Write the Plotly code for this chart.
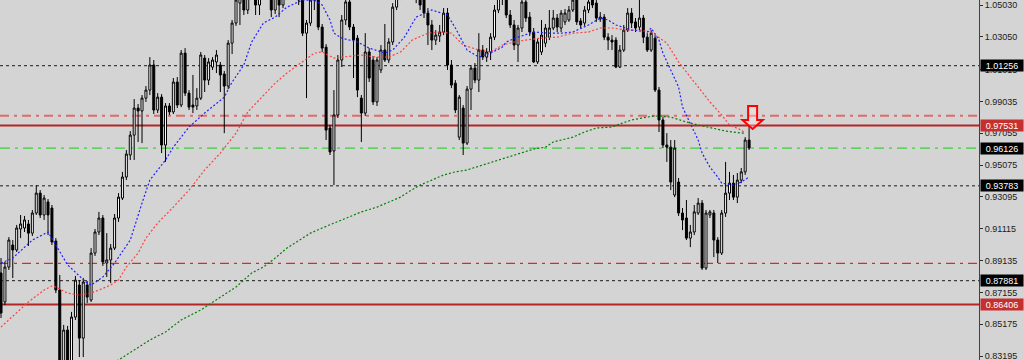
import plotly.graph_objects as go

# ---- candle data (price) ----
opens = [0.8836,0.8656,0.8873,0.9010,0.8979,0.9110,0.9116,0.9141,0.9084,0.9209,
0.9333,0.9197,0.9278,0.9240,0.9035,0.8730,0.8221,0.8481,0.8283,0.8562,
0.8761,0.8431,0.8761,0.8668,0.8960,0.9091,0.9178,0.8898,0.8917,0.8991,
0.9178,0.9302,0.9433,0.9570,0.9694,0.9862,0.9844,0.9924,0.9974,1.0130,
0.9850,0.9930,0.9632,0.9875,0.9838,1.0024,0.9881,1.0204,0.9955,0.9881,
0.9875,0.9924,1.0173,1.0036,1.0117,1.0149,1.0130,1.0074,0.9999,1.0266,
1.0391,1.0515,1.0565,1.0472,1.0596,1.0690,1.0503,1.0627,1.0721,1.0596,
1.0472,1.0584,1.0503,1.0627,1.0721,1.0658,1.0596,1.0534,1.0328,1.0391,
1.0534,1.0534,1.0366,1.0241,0.9738,0.9595,0.9819,1.0161,1.0410,1.0522,
1.0366,1.0297,0.9924,0.9831,1.0211,1.0161,0.9900,1.0099,1.0223,1.0161,
1.0273,1.0490,1.0565,1.0627,1.0690,1.0596,1.0658,1.0565,1.0553,1.0453,
1.0379,1.0285,1.0310,1.0335,1.0453,1.0130,1.0017,0.9681,0.9862,0.9644,
0.9980,1.0111,1.0036,1.0223,1.0179,1.0211,1.0303,1.0472,1.0553,1.0565,
1.0441,1.0379,1.0254,1.0360,1.0522,1.0428,1.0335,1.0149,1.0211,1.0266,
1.0303,1.0360,1.0422,1.0360,1.0398,1.0410,1.0472,1.0534,1.0404,1.0391,
1.0472,1.0553,1.0515,1.0416,1.0428,1.0303,1.0285,1.0285,1.0117,1.0223,
1.0347,1.0453,1.0398,1.0366,1.0422,1.0303,1.0223,1.0297,0.9974,0.9788,
0.9632,0.9619,0.9321,0.9402,0.9209,0.9178,0.9053,0.9091,0.9209,0.9271,
0.8867,0.9197,0.9209,0.9041,0.8960,0.9209,0.9333,0.9395,0.9308,0.9414,
0.9465,0.9663]

highs = [0.8929,0.8905,0.9059,0.9041,0.9135,0.9197,0.9191,0.9166,0.9228,0.9383,
0.9352,0.9321,0.9296,0.9259,0.9053,0.8824,0.8513,0.8507,0.8594,0.8818,
0.8792,0.8805,0.8786,0.8991,0.9110,0.9216,0.9197,0.9084,0.9016,0.9203,
0.9333,0.9465,0.9601,0.9719,0.9918,0.9887,0.9943,0.9999,1.0179,1.0161,
0.9955,0.9949,0.9893,0.9893,1.0049,1.0055,1.0223,1.0235,0.9974,1.0068,
0.9986,1.0211,1.0192,1.0173,1.0179,1.0223,1.0149,1.0093,1.0285,1.0410,
1.0596,1.0627,1.0627,1.0658,1.0752,1.0721,1.0690,1.0783,1.0752,1.0627,
1.0658,1.0627,1.0690,1.0783,1.0814,1.0721,1.0658,1.0565,1.0410,1.0565,
1.0627,1.0565,1.0385,1.0260,0.9757,0.9974,1.0192,1.0441,1.0565,1.0546,
1.0385,1.0316,0.9943,1.0328,1.0235,1.0186,1.0179,1.0254,1.0385,1.0297,
1.0515,1.0627,1.0690,1.0752,1.0752,1.0721,1.0690,1.0627,1.0596,1.0484,
1.0410,1.0347,1.0379,1.0484,1.0484,1.0161,1.0036,0.9943,0.9881,0.9999,
1.0130,1.0142,1.0328,1.0254,1.0235,1.0328,1.0503,1.0596,1.0627,1.0596,
1.0472,1.0410,1.0379,1.0553,1.0546,1.0459,1.0360,1.0297,1.0410,1.0385,
1.0472,1.0472,1.0447,1.0472,1.0478,1.0497,1.0565,1.0565,1.0422,1.0497,
1.0553,1.0584,1.0534,1.0459,1.0447,1.0328,1.0316,1.0303,1.0254,1.0379,
1.0484,1.0484,1.0422,1.0565,1.0441,1.0328,1.0347,1.0316,0.9993,0.9806,
0.9706,0.9663,0.9663,0.9427,0.9240,0.9290,0.9135,0.9259,0.9302,0.9290,
0.9228,0.9228,0.9228,0.9059,0.9228,0.9527,0.9465,0.9446,0.9458,0.9489,
0.9681,0.9751]

lows = [0.8556,0.8637,0.8855,0.8805,0.8967,0.9053,0.9091,0.9004,0.9066,0.9197,
0.9178,0.9166,0.9072,0.9010,0.8711,0.8139,0.8170,0.8202,0.8245,0.8544,
0.8313,0.8313,0.8649,0.8656,0.8942,0.9072,0.8880,0.8811,0.8773,0.8979,
0.9154,0.9290,0.9414,0.9539,0.9539,0.9651,0.9644,0.9900,0.9943,0.9825,
0.9831,0.9582,0.9527,0.9819,0.9825,0.9862,0.9868,0.9937,0.9850,0.9831,
0.9850,0.9912,0.9962,1.0005,1.0099,1.0080,0.9962,0.9706,0.9980,1.0198,
1.0373,1.0379,1.0441,1.0447,1.0565,1.0441,1.0441,1.0596,1.0534,1.0428,
1.0447,1.0428,1.0484,1.0596,1.0627,1.0553,1.0503,1.0310,0.9924,1.0373,
1.0472,1.0347,1.0211,0.9663,0.9570,0.9383,0.9800,1.0117,1.0379,1.0347,
1.0049,0.9930,0.9651,0.9813,1.0024,0.9881,0.9875,1.0080,1.0149,1.0142,
1.0254,1.0472,1.0534,1.0596,1.0565,1.0565,1.0515,1.0472,1.0422,1.0254,
1.0223,1.0254,1.0273,1.0316,1.0099,0.9986,0.9831,0.9663,0.9570,0.9632,
0.9850,1.0017,0.9962,1.0161,1.0149,1.0161,1.0285,1.0453,1.0503,1.0422,
1.0360,1.0223,1.0149,1.0335,1.0398,1.0310,1.0142,1.0136,1.0192,1.0241,
1.0285,1.0347,1.0335,1.0335,1.0379,1.0398,1.0459,1.0379,1.0360,1.0373,
1.0453,1.0484,1.0398,1.0398,1.0285,1.0223,1.0223,1.0111,1.0111,1.0211,
1.0335,1.0360,1.0335,1.0347,1.0266,1.0211,1.0211,0.9962,0.9713,0.9613,
0.9527,0.9352,0.9308,0.9191,0.9103,0.9041,0.8997,0.9072,0.9197,0.8855,
0.8855,0.9178,0.8935,0.8898,0.8948,0.9185,0.9290,0.9290,0.9271,0.9395,
0.9446,0.9601]

closes = [0.8587,0.8873,0.9041,0.8979,0.9116,0.9141,0.9166,0.9084,0.9209,0.9333,
0.9197,0.9302,0.9197,0.9029,0.8730,0.8221,0.8481,0.8283,0.8562,0.8792,
0.8431,0.8780,0.8686,0.8960,0.9091,0.9178,0.8905,0.8917,0.8991,0.9178,
0.9308,0.9433,0.9576,0.9694,0.9862,0.9844,0.9924,0.9974,1.0130,0.9850,
0.9930,0.9632,0.9875,0.9838,1.0024,0.9881,1.0204,0.9955,0.9868,0.9868,
0.9924,1.0192,1.0036,1.0149,1.0161,1.0192,1.0068,0.9999,1.0266,1.0391,
1.0534,1.0565,1.0472,1.0596,1.0690,1.0503,1.0627,1.0721,1.0596,1.0472,
1.0584,1.0503,1.0627,1.0721,1.0658,1.0596,1.0534,1.0328,1.0391,1.0534,
1.0565,1.0366,1.0235,0.9725,0.9589,0.9819,1.0161,1.0410,1.0522,1.0366,
1.0285,0.9974,0.9831,1.0211,1.0049,0.9900,1.0161,1.0223,1.0161,1.0273,
1.0490,1.0565,1.0627,1.0690,1.0596,1.0658,1.0565,1.0503,1.0453,1.0379,
1.0285,1.0316,1.0335,1.0453,1.0130,1.0005,0.9850,0.9930,0.9644,0.9980,
1.0111,1.0036,1.0223,1.0179,1.0211,1.0303,1.0472,1.0553,1.0584,1.0441,
1.0379,1.0254,1.0360,1.0522,1.0422,1.0335,1.0149,1.0273,1.0316,1.0360,
1.0360,1.0422,1.0366,1.0453,1.0453,1.0472,1.0534,1.0398,1.0379,1.0472,
1.0522,1.0503,1.0422,1.0428,1.0303,1.0285,1.0273,1.0117,1.0223,1.0347,
1.0453,1.0391,1.0360,1.0422,1.0303,1.0223,1.0328,0.9974,0.9788,0.9632,
0.9619,0.9402,0.9613,0.9209,0.9166,0.9053,0.9091,0.9216,0.9271,0.8867,
0.9209,0.9216,0.9041,0.8960,0.9209,0.9333,0.9395,0.9308,0.9414,0.9465,
0.9663,0.9613]

bar_index = list(range(len(opens)))

# ---- moving averages (sampled at bar indices) ----
fast_idx = [0,3,8,12,14,17,20,22,23,26,29,33,36,38,42,44,48,52,57,59,62,64,67,70,73,77,80,82,84,85,87,91,94,98,100,103,106,110,114,116,119,122,125,128,129,132,136,140,143,146,150,153,155,157,161,165,166,168,169,171,173,174,176,178,179,181,183,184,187,189,191]
fast_val = [0.8898,0.8929,0.9041,0.9091,0.9010,0.8886,0.8818,0.8773,0.8761,0.8811,0.8898,0.9041,0.9271,0.9414,0.9539,0.9619,0.9744,0.9831,0.9930,1.0024,1.0130,1.0273,1.0391,1.0428,1.0490,1.0534,1.0534,1.0503,1.0410,1.0328,1.0297,1.0273,1.0235,1.0204,1.0223,1.0303,1.0428,1.0472,1.0441,1.0360,1.0223,1.0179,1.0204,1.0241,1.0273,1.0303,1.0335,1.0328,1.0328,1.0335,1.0379,1.0422,1.0410,1.0379,1.0347,1.0335,1.0360,1.0285,1.0204,1.0099,0.9993,0.9868,0.9769,0.9663,0.9582,0.9495,0.9433,0.9395,0.9383,0.9402,0.9433]

mid_idx = [0,4,7,11,13,14,17,20,23,25,28,30,32,35,37,40,44,48,52,56,60,63,67,70,73,77,80,82,85,87,92,96,99,102,105,109,112,115,118,122,125,128,131,134,138,142,146,150,153,156,160,163,166,170,173,176,178,181,184,186,189,190]
mid_val = [0.8500,0.8587,0.8656,0.8730,0.8755,0.8749,0.8711,0.8699,0.8711,0.8730,0.8761,0.8792,0.8873,0.8960,0.9053,0.9147,0.9246,0.9352,0.9477,0.9582,0.9706,0.9838,0.9943,1.0017,1.0080,1.0149,1.0204,1.0211,1.0173,1.0179,1.0192,1.0179,1.0179,1.0211,1.0285,1.0328,1.0335,1.0328,1.0254,1.0223,1.0211,1.0254,1.0273,1.0285,1.0297,1.0303,1.0328,1.0335,1.0360,1.0360,1.0347,1.0347,1.0335,1.0266,1.0149,1.0055,0.9993,0.9900,0.9819,0.9757,0.9725,0.9706]

slow_idx = [25,30,34,38,42,46,51,56,60,64,67,70,73,77,79,82,86,89,92,96,99,102,104,107,110,113,116,119,123,127,131,136,139,141,146,149,152,156,158,161,165,167,171,175,178,182,185,189,190]
slow_val = [0.8233,0.8295,0.8357,0.8419,0.8469,0.8544,0.8606,0.8686,0.8749,0.8836,0.8873,0.8929,0.8991,0.9053,0.9084,0.9116,0.9154,0.9185,0.9216,0.9246,0.9278,0.9308,0.9340,0.9383,0.9414,0.9446,0.9465,0.9477,0.9508,0.9539,0.9570,0.9607,0.9619,0.9651,0.9681,0.9713,0.9738,0.9744,0.9763,0.9788,0.9806,0.9813,0.9806,0.9775,0.9757,0.9738,0.9719,0.9706,0.9706]

# ---- horizontal levels ----
level_prices = [1.01256, 0.98146, 0.97531, 0.96126, 0.93783, 0.88963, 0.87881, 0.86406]
level_colors = ["#1a1a1a", "rgba(225,95,95,0.9)", "#b52525", "#3ccd3c", "#1a1a1a", "#e02828", "#1a1a1a", "#b52525"]
level_widths = [1, 2, 2, 1.3, 1, 1.3, 1, 2]
level_dashes = ["3px,3px", "9px,5px,3px,5px", "solid", "10px,5px,3px,5px", "3px,3px", "9px,5px,3px,5px", "3px,3px", "solid"]

# ---- axis ticks and price tags ----
tick_vals = [1.05030, 1.03050, 1.01015, 0.99035, 0.97055, 0.95075, 0.93095, 0.91115, 0.89135, 0.87155, 0.85175, 0.83195]
tick_text = ["%.5f" % v for v in tick_vals]
tag_prices = [1.01256, 0.97531, 0.96126, 0.93783, 0.87881, 0.86406]
tag_colors = ["#000000", "#c43030", "#000000", "#000000", "#000000", "#c43030"]

fig = go.Figure()
fig.add_trace(go.Candlestick(
    x=bar_index, open=opens, high=highs, low=lows, close=closes,
    increasing=dict(line=dict(color="#000000", width=1), fillcolor="#ffffff"),
    decreasing=dict(line=dict(color="#000000", width=1), fillcolor="#000000"),
    whiskerwidth=0, showlegend=False, hoverinfo="skip"))

fig.add_trace(go.Scatter(x=slow_idx, y=slow_val, mode="lines",
    line=dict(color="#008000", width=1.2, dash="2px,2px"), showlegend=False, hoverinfo="skip"))
fig.add_trace(go.Scatter(x=mid_idx, y=mid_val, mode="lines",
    line=dict(color="#ff4040", width=1.2, dash="2px,2px"), showlegend=False, hoverinfo="skip"))
fig.add_trace(go.Scatter(x=fast_idx, y=fast_val, mode="lines",
    line=dict(color="#2020ff", width=1.2, dash="2px,2px"), showlegend=False, hoverinfo="skip"))

shapes = []
for p, c, w, d in zip(level_prices, level_colors, level_widths, level_dashes):
    shapes.append(dict(type="line", xref="paper", x0=0, x1=1, yref="y", y0=p, y1=p,
                       line=dict(color=c, width=w, dash=d), layer="below"))

# signal arrow above the last bar
last = bar_index[-1]
ax = last + 0.9
arrow_path = ("M {a},{t} L {b},{t} L {b},{m} L {c},{m} L {x},{tip} L {d},{m} L {a},{m} Z"
              .format(a=ax - 1.15, b=ax + 1.15, c=ax + 2.6, d=ax - 2.6, x=ax,
                      t=0.98749, m=0.97878, tip=0.97318))
shapes.append(dict(type="path", xref="x", yref="y", path=arrow_path,
                   line=dict(color="#ff0000", width=2), fillcolor="rgba(255,235,235,0.35)", layer="above"))

annotations = []
for p, c in zip(tag_prices, tag_colors):
    annotations.append(dict(xref="paper", x=1, xanchor="left", xshift=1, yref="y", y=p,
                            yanchor="middle", text="%.5f" % p, showarrow=False,
                            font=dict(family="Liberation Sans, Arial, sans-serif", size=9, color="#ffffff"),
                            bgcolor=c, width=42, height=11, borderpad=0, align="center"))

fig.update_layout(
    width=1024, height=360,
    margin=dict(l=0, r=45, t=0, b=0),
    paper_bgcolor="#d4d4d4", plot_bgcolor="#d4d4d4",
    shapes=shapes, annotations=annotations,
    boxgap=0.28,
    xaxis=dict(visible=False, range=[-0.26, 249.7], rangeslider=dict(visible=False), fixedrange=True),
    yaxis=dict(side="right", range=[0.82948, 1.05343], tickvals=tick_vals, ticktext=tick_text,
               ticks="outside", ticklen=3, tickcolor="#303030", showline=True, linecolor="#404040",
               linewidth=1, showgrid=False, zeroline=False, ticklabeloverflow="allow",
               tickfont=dict(family="Liberation Sans, Arial, sans-serif", size=9, color="#202020")),
    font=dict(family="Liberation Sans, Arial, sans-serif"),
)

fig.write_html("out.html")
